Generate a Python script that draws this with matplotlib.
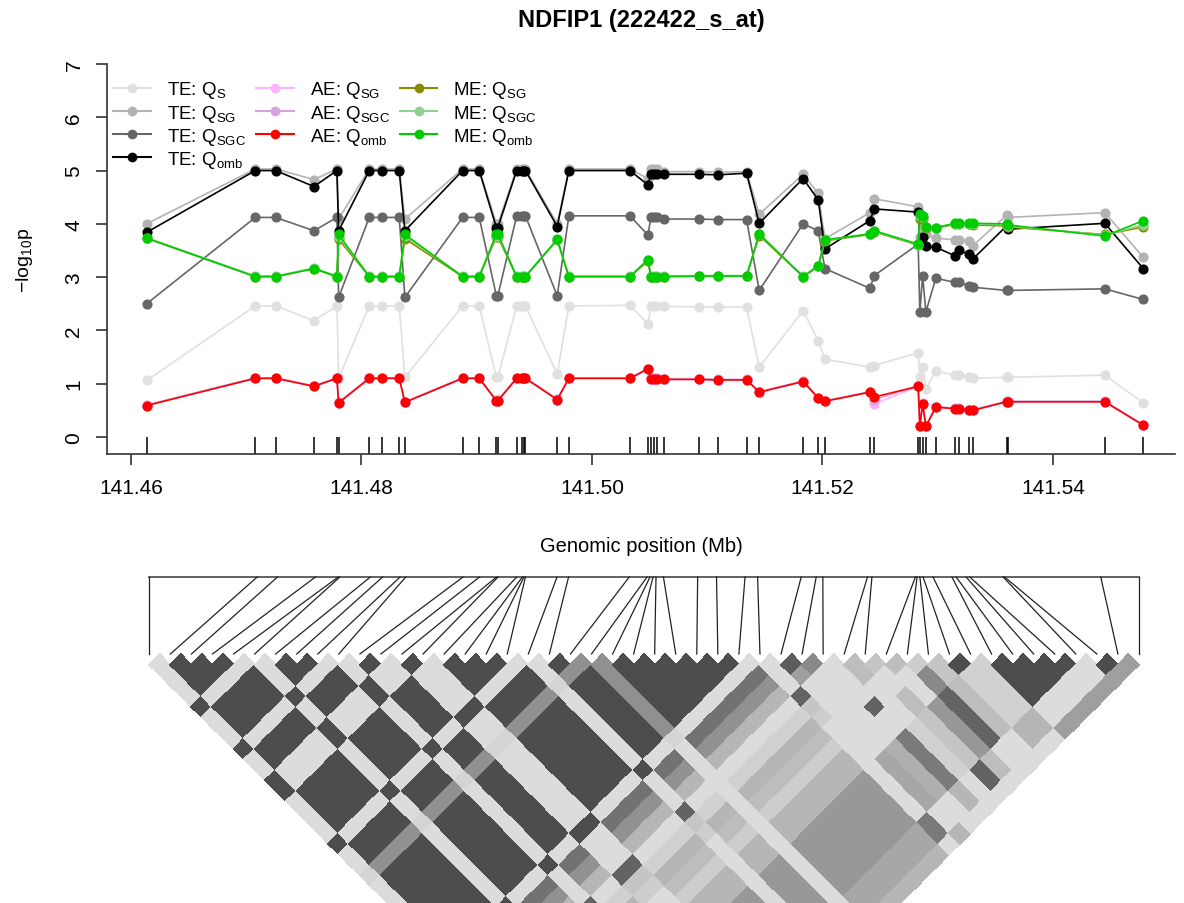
import numpy as np
import matplotlib
matplotlib.use("Agg")
import matplotlib.pyplot as plt
from matplotlib.colors import LinearSegmentedColormap
from matplotlib.lines import Line2D

plt.rcParams['font.family'] = ['Liberation Sans', 'DejaVu Sans']
plt.rcParams['mathtext.fontset'] = 'custom'
plt.rcParams['mathtext.rm'] = 'Liberation Sans'
plt.rcParams['mathtext.it'] = 'Liberation Sans:italic'

# SNP positions (Mb)
snp_pos = [141.46136, 141.47079, 141.47256, 141.47588, 141.47787, 141.47802,
           141.48068, 141.48175, 141.48328, 141.48377, 141.48878, 141.49022,
           141.49171, 141.49184, 141.49347, 141.49397, 141.49410, 141.49423,
           141.49699, 141.49800, 141.50330, 141.50486, 141.50512, 141.50538,
           141.50564, 141.50629, 141.50928, 141.51093, 141.51342, 141.51452,
           141.51833, 141.51964, 141.52022, 141.52412, 141.52451, 141.52831,
           141.52846, 141.52870, 141.52898, 141.52985, 141.53150, 141.53187,
           141.53274, 141.53306, 141.53598, 141.53610, 141.54451, 141.54785]

te_qs = [1.06, 2.46, 2.46, 2.18, 2.46, 1.10, 2.46, 2.46, 2.46, 1.12, 2.46, 2.46,
         1.12, 1.12, 2.46, 2.46, 2.46, 2.46, 1.18, 2.46, 2.47, 2.12, 2.46, 2.46,
         2.46, 2.45, 2.44, 2.44, 2.44, 1.31, 2.37, 1.81, 1.46, 1.31, 1.34, 1.58,
         1.12, 1.32, 0.90, 1.24, 1.16, 1.16, 1.12, 1.10, 1.12, 1.12, 1.16, 0.64]
te_qsg = [4.00, 5.03, 5.03, 4.83, 5.03, 4.09, 5.03, 5.03, 5.03, 4.09, 5.03, 5.03,
          4.00, 4.00, 5.03, 5.03, 5.03, 5.03, 4.00, 5.03, 5.03, 4.85, 5.03, 5.03,
          5.03, 4.98, 4.98, 4.97, 4.98, 4.18, 4.93, 4.57, 3.72, 4.21, 4.47, 4.32,
          3.75, 3.95, 3.80, 3.73, 3.70, 3.70, 3.68, 3.59, 4.16, 4.12, 4.21, 3.37]
te_qsgc = [2.50, 4.12, 4.12, 3.87, 4.12, 2.62, 4.12, 4.12, 4.12, 2.62, 4.12, 4.12,
           2.65, 2.65, 4.15, 4.15, 4.15, 4.15, 2.65, 4.15, 4.15, 3.79, 4.12, 4.12,
           4.12, 4.09, 4.09, 4.08, 4.08, 2.75, 4.00, 3.87, 3.16, 2.79, 3.03, 3.62,
           2.35, 3.02, 2.35, 2.98, 2.90, 2.90, 2.84, 2.81, 2.75, 2.75, 2.78, 2.58]
te_qomb = [3.84, 5.00, 5.00, 4.70, 5.00, 3.87, 5.00, 5.00, 5.00, 3.87, 5.00, 5.00,
           3.93, 3.93, 5.00, 5.00, 5.00, 5.00, 3.95, 5.00, 5.00, 4.73, 4.93, 4.93,
           4.93, 4.93, 4.93, 4.92, 4.95, 4.01, 4.85, 4.45, 3.53, 4.06, 4.28, 4.22,
           3.62, 3.75, 3.58, 3.56, 3.40, 3.50, 3.43, 3.34, 3.96, 3.90, 4.01, 3.16]

ae_qsg = [0.59, 1.10, 1.10, 0.95, 1.10, 0.64, 1.10, 1.10, 1.10, 0.65, 1.10, 1.10,
          0.68, 0.68, 1.10, 1.10, 1.10, 1.10, 0.70, 1.10, 1.10, 1.28, 1.09, 1.09,
          1.09, 1.08, 1.08, 1.07, 1.07, 0.84, 1.04, 0.73, 0.67, 0.84, 0.62, 0.95,
          0.20, 0.62, 0.20, 0.56, 0.53, 0.53, 0.50, 0.50, 0.66, 0.66, 0.66, 0.22]
ae_qsgc = [0.60, 1.11, 1.11, 0.96, 1.11, 0.65, 1.11, 1.11, 1.11, 0.66, 1.11, 1.11,
           0.69, 0.69, 1.11, 1.11, 1.11, 1.11, 0.71, 1.11, 1.11, 1.27, 1.10, 1.10,
           1.10, 1.09, 1.09, 1.08, 1.08, 0.85, 1.05, 0.74, 0.68, 0.85, 0.70, 0.96,
           0.21, 0.63, 0.21, 0.57, 0.54, 0.54, 0.51, 0.51, 0.67, 0.67, 0.67, 0.23]
ae_qomb = [0.59, 1.10, 1.10, 0.95, 1.10, 0.64, 1.10, 1.10, 1.10, 0.65, 1.10, 1.10,
           0.68, 0.68, 1.10, 1.10, 1.10, 1.10, 0.70, 1.10, 1.10, 1.28, 1.09, 1.09,
           1.09, 1.08, 1.08, 1.07, 1.07, 0.84, 1.04, 0.73, 0.67, 0.84, 0.75, 0.95,
           0.20, 0.62, 0.20, 0.56, 0.53, 0.53, 0.50, 0.50, 0.66, 0.66, 0.66, 0.22]

me_qsg = [3.73, 3.01, 3.01, 3.16, 3.01, 3.71, 3.01, 3.01, 3.01, 3.72, 3.01, 3.01,
          3.75, 3.75, 3.01, 3.01, 3.01, 3.01, 3.70, 3.01, 3.01, 3.30, 3.01, 3.01,
          3.01, 3.01, 3.02, 3.02, 3.02, 3.78, 3.01, 3.20, 3.68, 3.80, 3.85, 3.60,
          4.10, 4.10, 3.93, 3.92, 3.99, 3.99, 3.99, 3.98, 3.96, 3.94, 3.80, 3.94]
me_qsgc = [3.74, 3.02, 3.02, 3.17, 3.02, 3.76, 3.02, 3.02, 3.02, 3.77, 3.02, 3.02,
           3.78, 3.78, 3.02, 3.02, 3.02, 3.02, 3.70, 3.02, 3.02, 3.32, 3.02, 3.02,
           3.02, 3.02, 3.03, 3.03, 3.03, 3.80, 3.02, 3.21, 3.69, 3.81, 3.86, 3.61,
           4.14, 4.12, 3.94, 3.93, 4.00, 4.00, 4.00, 4.00, 3.98, 3.96, 3.79, 3.98]
me_qomb = [3.73, 3.01, 3.01, 3.16, 3.01, 3.80, 3.01, 3.01, 3.01, 3.80, 3.01, 3.01,
           3.81, 3.81, 3.01, 3.01, 3.01, 3.01, 3.71, 3.01, 3.01, 3.33, 3.01, 3.01,
           3.01, 3.01, 3.02, 3.02, 3.02, 3.81, 3.01, 3.21, 3.70, 3.81, 3.87, 3.62,
           4.18, 4.15, 3.95, 3.93, 4.01, 4.01, 4.01, 4.01, 4.00, 3.98, 3.77, 4.06]

series_labels = [r'TE: Q$_{\mathrm{S}}$', r'TE: Q$_{\mathrm{SG}}$', r'TE: Q$_{\mathrm{SGC}}$',
                 r'TE: Q$_{\mathrm{omb}}$', r'AE: Q$_{\mathrm{SG}}$', r'AE: Q$_{\mathrm{SGC}}$',
                 r'AE: Q$_{\mathrm{omb}}$', r'ME: Q$_{\mathrm{SG}}$', r'ME: Q$_{\mathrm{SGC}}$',
                 r'ME: Q$_{\mathrm{omb}}$']
series_values = [te_qs, te_qsg, te_qsgc, te_qomb, ae_qsg, ae_qsgc, ae_qomb,
                 me_qsg, me_qsgc, me_qomb]
series_colors = ['#e0e0e0', '#b3b3b3', '#666666', '#000000', '#ffb3ff', '#d8a2e0',
                 '#ff0000', '#8b8b00', '#90d090', '#00cd00']

# LD: haplotype group of each SNP and r^2 between groups
snp_group = ['X', 'Y', 'Y', 'Y', 'Y', 'X', 'Y', 'Y', 'Y', 'X', 'Y', 'Y',
             'X', 'X', 'Y', 'Y', 'Y', 'Y', 'X', 'Y', 'Y', 'P', 'Y', 'Y',
             'Y', 'Y', 'Y', 'Y', 'Y', 'X', 'A', 'A2', 'B', 'X2', 'C', 'D',
             'E', 'F', 'G', 'G', 'R', 'R', 'R', 'R', 'R', 'H', 'H', 'I']
group_ld = {
    ('X', 'X'): 1.0, ('Y', 'Y'): 1.0, ('P', 'P'): 1.0, ('P', 'Y'): 0.55,
    ('P', 'X'): 0.1, ('A', 'A'): 1.0, ('A2', 'A2'): 1.0, ('A', 'Y'): 0.75,
    ('A', 'A2'): 0.9, ('A2', 'Y'): 0.55, ('B', 'A2'): 0.6, ('B', 'A'): 0.45,
    ('B', 'Y'): 0.3, ('X2', 'X'): 0.85, ('X2', 'C'): 0.25, ('C', 'C'): 1.0,
    ('D', 'D'): 1.0, ('E', 'E'): 1.0, ('F', 'F'): 1.0, ('G', 'G'): 1.0,
    ('R', 'R'): 1.0, ('H', 'H'): 1.0, ('I', 'I'): 1.0, ('E', 'R'): 0.85,
    ('E', 'G'): 0.6, ('B', 'R'): 0.7, ('C', 'H'): 0.85, ('B', 'F'): 0.85,
    ('X', 'H'): 0.7, ('Y', 'R'): 0.5, ('A', 'R'): 0.4, ('A2', 'R'): 0.35,
    ('Y', 'G'): 0.3, ('Y', 'H'): 0.4, ('Y', 'D'): 0.3, ('D', 'R'): 0.5,
    ('H', 'I'): 0.45, ('R', 'I'): 0.45, ('G', 'H'): 0.3, ('F', 'R'): 0.25,
    ('C', 'R'): 0.2, ('X2', 'R'): 0.12, ('C', 'D'): 0.2, ('D', 'E'): 0.25,
    ('E', 'F'): 0.15, ('F', 'G'): 0.2, ('G', 'R'): 0.12, ('Y', 'I'): 0.3,
    ('A', 'I'): 0.3, ('B', 'H'): 0.3, ('D', 'H'): 0.25, ('C', 'G'): 0.25,
    ('X2', 'D'): 0.25, ('X', 'C'): 0.2, ('X', 'D'): 0.15, ('Y', 'C'): 0.12,
    ('Y', 'E'): 0.25, ('Y', 'F'): 0.15,
}
ld_floor = 0.05

n = len(snp_pos)
ld = np.full((n, n), np.nan)
for i in range(n):
    for j in range(i + 1, n):
        gi, gj = snp_group[i], snp_group[j]
        ld[i, j] = group_ld.get((gi, gj), group_ld.get((gj, gi), ld_floor))

fig = plt.figure(figsize=(11.84, 9.04), dpi=100)
W, H = 1184, 904

# association panel
ax = fig.add_axes([107 / W, 1 - 455 / H, (1175 - 107) / W, (455 - 65) / H])
for vals, col, lab in zip(series_values, series_colors, series_labels):
    ax.plot(snp_pos, vals, '-o', color=col, lw=1.2, ms=6.3, label=lab)
ax.vlines(snp_pos, -0.32, -0.0, color='black', lw=1.1)
ax.set_xlim(141.45792, 141.5506)
ax.set_ylim(-0.32, 7.0)
ax.set_xticks([141.46, 141.48, 141.50, 141.52, 141.54])
ax.set_xticklabels(['141.46', '141.48', '141.50', '141.52', '141.54'])
ax.set_yticks(range(8))
for s in ['top', 'right']:
    ax.spines[s].set_visible(False)
for s in ['left', 'bottom']:
    ax.spines[s].set_color('#333333')
    ax.spines[s].set_linewidth(1.2)
ax.tick_params(axis='both', direction='out', length=8, width=1.2, color='#333333',
               labelsize=15)
ax.tick_params(axis='x', pad=9)
ax.tick_params(axis='y', pad=9)
for t in ax.get_yticklabels():
    t.set_rotation(90)
    t.set_va('center')
ax.set_xlabel('Genomic position (Mb)', fontsize=14.5)
ax.xaxis.set_label_coords(0.5, -0.21)
ax.set_ylabel('\u2212log$_{\\mathrm{10}}$p', fontsize=14)
ax.yaxis.set_label_coords(-0.067, 0.5)
ax.set_title('NDFIP1 (222422_s_at)', fontsize=17, fontweight='bold', pad=27)

handles = [Line2D([], [], color=c, marker='o', lw=1.5, ms=6) for c in series_colors]
blank = Line2D([], [], color='none')
leg_handles = handles[:4] + handles[4:7] + [blank] + handles[7:10] + [blank]
leg_labels = series_labels[:4] + series_labels[4:7] + [''] + series_labels[7:10] + ['']
ax.legend(leg_handles, leg_labels, ncol=3, frameon=False, fontsize=13.5,
          loc='upper left', bbox_to_anchor=(-0.001, 0.98), handlelength=2.0,
          handletextpad=0.85, labelspacing=0.12, columnspacing=0.55, borderaxespad=0)

# LD heatmap panel (rotated upper triangle)
x0, x1 = 140, 1150
step = (1139 - 149.3) / (n - 1)
ax2 = fig.add_axes([x0 / W, 0, (x1 - x0) / W, (H - 570) / H])
ax2.set_xlim((x0 - 149.3) / step, (x1 - 149.3) / step)
ax2.set_ylim((H - 655) / step, (570 - 655) / step)
ax2.axis('off')

edges = np.arange(n + 1) - 0.5
a_grid, b_grid = np.meshgrid(edges, edges)
mesh_x = (a_grid + b_grid) / 2
mesh_y = (b_grid - a_grid) / 2
ld_cmap = LinearSegmentedColormap.from_list('ld_grey', ['#e3e3e3', '#4d4d4d'])
ax2.pcolormesh(mesh_x, mesh_y, np.ma.masked_invalid(ld.T), cmap=ld_cmap,
               vmin=0, vmax=1, shading='flat', edgecolors='face', linewidth=0.3)

bar_y = (578 - 655) / step
span = snp_pos[-1] - snp_pos[0]
bar_x = [(p - snp_pos[0]) / span * (n - 1) for p in snp_pos]
ax2.plot([0, n - 1], [bar_y, bar_y], color='#555555', lw=1.3, clip_on=False)
for k in range(n):
    ax2.plot([bar_x[k], k], [bar_y, 0], color='#222222', lw=0.9, clip_on=False)

fig.savefig('out.png', dpi=100)
